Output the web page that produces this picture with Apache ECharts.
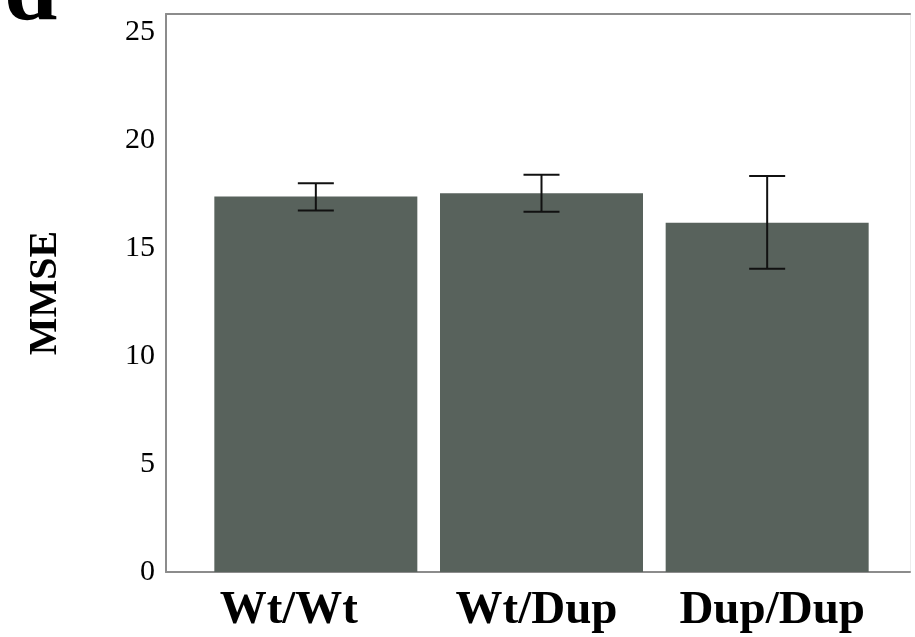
<!DOCTYPE html>
<html>
<head>
<meta charset="utf-8">
<script src="https://cdn.jsdelivr.net/npm/echarts@6/dist/echarts.min.js"></script>
<style>
html,body{margin:0;padding:0;background:#fff;}
#chart{width:915px;height:637px;}
</style>
</head>
<body>
<div id="chart"></div>
<script>
const categories = ['Wt/Wt', 'Wt/Dup', 'Dup/Dup'];
const means = [17.38, 17.53, 16.17];
const errLow = [16.73, 16.68, 14.04];
const errHigh = [18.00, 18.39, 18.33];
const yTicks = [0, 5, 10, 15, 20, 25];
const yMin = 0, yMax = 25.83, yStep = 5;

const serif = '"Liberation Serif", "Times New Roman", serif';
const frameColor = '#8c8c8c';
// horizontal label nudges (layout only)
const labelShift = {'Wt/Wt': -27, 'Wt/Dup': -5, 'Dup/Dup': 5};

const chart = echarts.init(document.getElementById('chart'), null, {renderer: 'canvas'});
const errData = categories.map((c, i) => [i, errLow[i], errHigh[i]]);

const labelBase = {color: '#000', fontFamily: serif, fontWeight: 'bold', fontSize: 47};
const rich = {};
categories.forEach((c, i) => {
  const s = labelShift[c] || 0;
  rich['c' + i] = Object.assign({}, labelBase, {
    padding: s < 0 ? [0, -2 * s, 0, 0] : [0, 0, 0, 2 * s]
  });
});

chart.setOption({
  backgroundColor: '#ffffff',
  animation: false,
  graphic: [{
    type: 'text', left: 4, top: -54,
    style: {text: 'd', font: 'bold 96px ' + serif, fill: '#000'}
  }],
  grid: [
    {left: 166, right: 5, top: 14, bottom: 65},
    {left: 203, right: 35, top: 14, bottom: 65}
  ],
  xAxis: [
    {gridIndex: 0, type: 'value', min: 0, max: 1, position: 'bottom',
     axisLine: {show: true, onZero: false, lineStyle: {color: frameColor, width: 2}},
     axisTick: {show: false}, axisLabel: {show: false}, splitLine: {show: false}},
    {gridIndex: 0, type: 'value', min: 0, max: 1, position: 'top',
     axisLine: {show: true, onZero: false, lineStyle: {color: frameColor, width: 2}},
     axisTick: {show: false}, axisLabel: {show: false}, splitLine: {show: false}},
    {gridIndex: 1, type: 'category', data: categories, boundaryGap: true,
     axisLine: {show: false}, axisTick: {show: false}, splitLine: {show: false},
     axisLabel: Object.assign({}, labelBase, {margin: 15, interval: 0, rich: rich,
       formatter: function (v) { const i = categories.indexOf(v); return '{c' + i + '|' + v + '}'; }})}
  ],
  yAxis: [
    {gridIndex: 0, type: 'value', min: yMin, max: yMax, interval: yStep, position: 'left',
     name: 'MMSE', nameLocation: 'middle', nameGap: 100, nameRotate: 90,
     nameTextStyle: {color: '#000', fontFamily: serif, fontWeight: 'bold', fontSize: 40},
     axisLine: {show: true, onZero: false, lineStyle: {color: frameColor, width: 2}},
     axisTick: {show: false}, splitLine: {show: false},
     axisLabel: {color: '#000', fontFamily: serif, fontSize: 30, margin: 11, showMaxLabel: false,
       formatter: v => (yTicks.indexOf(v) >= 0 ? String(v) : '')}},
    {gridIndex: 0, type: 'value', min: yMin, max: yMax, position: 'right',
     axisLine: {show: true, onZero: false, lineStyle: {color: '#ececec', width: 1}},
     axisTick: {show: false}, axisLabel: {show: false}, splitLine: {show: false}},
    {gridIndex: 1, type: 'value', min: yMin, max: yMax, show: false}
  ],
  series: [
    {type: 'bar', xAxisIndex: 2, yAxisIndex: 2, data: means, barWidth: 203,
     itemStyle: {color: '#58625c'}},
    {type: 'custom', xAxisIndex: 2, yAxisIndex: 2, data: errData, z: 10,
     renderItem: function (params, api) {
       const x = api.value(0);
       const lo = api.coord([x, api.value(1)]);
       const hi = api.coord([x, api.value(2)]);
       const hw = 18;
       const st = {stroke: '#111', lineWidth: 2};
       return {type: 'group', children: [
         {type: 'line', shape: {x1: hi[0], y1: hi[1], x2: lo[0], y2: lo[1]}, style: st},
         {type: 'line', shape: {x1: hi[0] - hw, y1: hi[1], x2: hi[0] + hw, y2: hi[1]}, style: st},
         {type: 'line', shape: {x1: lo[0] - hw, y1: lo[1], x2: lo[0] + hw, y2: lo[1]}, style: st}
       ]};
     }}
  ]
});
</script>
</body>
</html>
